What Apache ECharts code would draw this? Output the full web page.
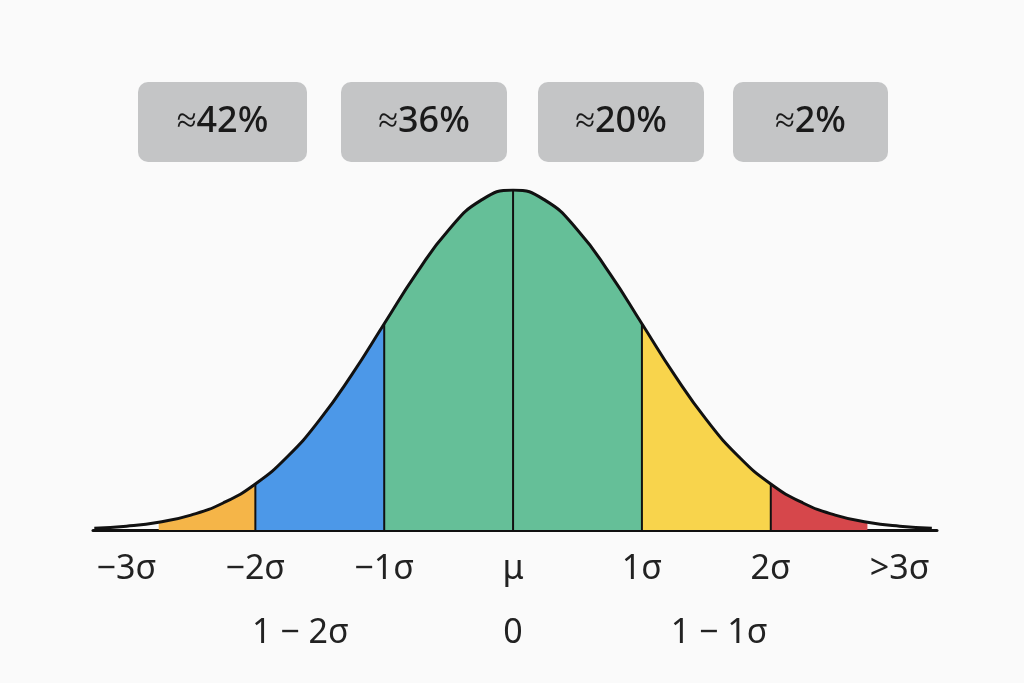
<!DOCTYPE html>
<html><head><meta charset="utf-8">
<script src="https://cdn.jsdelivr.net/npm/echarts@6/dist/echarts.min.js"></script>
<style>html,body{margin:0;background:#fafafa}#c{width:1024px;height:683px}</style>
</head><body><div id="c"></div>
<script>
const xs = [-3.25,-3,-2.75,-2.5,-2.25,-2,-1.75,-1.5,-1.25,-1,-0.75,-0.5,-0.25,0,0.25,0.5,0.75,1,1.25,1.5,1.75,2,2.25,2.5,2.75,3,3.25];
const ys = [0.0020,0.0044,0.0091,0.0175,0.0317,0.0540,0.0863,0.1295,0.1826,0.2420,0.3011,0.3521,0.3867,0.3989,0.3867,0.3521,0.3011,0.2420,0.1826,0.1295,0.0863,0.0540,0.0317,0.0175,0.0091,0.0044,0.0020];
const bands = [[-2.75,-2,'#F5B548'],[-2,-1,'#4C98E8'],[-1,1,'#65BF98'],[1,2,'#F8D44C'],[2,2.75,'#D6474B']];
const dividers = [-2,-1,0,1,2];
const tickLabels = {'-3':'−3σ','-2':'−2σ','-1':'−1σ','0':'μ','1':'1σ','2':'2σ','3':'>3σ'};
const secondRow = [[-1.65,'1 − 2σ'],[0,'0'],[1.6,'1 − 1σ']];
const boxes = ['≈42%','≈36%','≈20%','≈2%'];
const boxX = [138,341,538,733], boxW = [169,166,166,155];

const pts = xs.map((x,i)=>[x,ys[i]]);
const series = [];
bands.forEach(b=>{
  series.push({type:'line',smooth:true,symbol:'none',lineStyle:{width:0},
    areaStyle:{color:b[2],opacity:1},
    data:pts.filter(p=>p[0]>=b[0]-1e-9&&p[0]<=b[1]+1e-9)});
});
dividers.forEach(d=>{
  const i = xs.indexOf(d);
  series.push({type:'line',symbol:'none',lineStyle:{color:'#111',width:2},data:[[d,0],[d,ys[i]]]});
});
series.push({type:'line',smooth:true,symbol:'none',lineStyle:{color:'#111',width:3},data:pts,z:5});

const chart = echarts.init(document.getElementById('c'));
const graphic = [];
boxes.forEach((t,i)=>{
  graphic.push({type:'rect',shape:{x:boxX[i],y:82,width:boxW[i],height:80,r:10},style:{fill:'#c4c5c6'}});
  graphic.push({type:'text',x:boxX[i]+boxW[i]/2,y:122,style:{text:t,fill:'#1a1a1a',font:'500 36px "Noto Sans"',align:'center',verticalAlign:'middle'}});
});
chart.setOption({
  backgroundColor:'#fafafa',
  animation:false,
  grid:{left:93,right:87,top:190,bottom:153},
  xAxis:{type:'value',min:-3.26,max:3.29,splitLine:{show:false},
    axisLine:{lineStyle:{color:'#111',width:3}},axisTick:{show:false},
    axisLabel:{customValues:[-3,-2,-1,0,1,2,3],showMinLabel:true,showMaxLabel:true,margin:22,
      formatter:v=>tickLabels[String(Math.round(v))]||'',color:'#222',fontSize:34,fontFamily:'Noto Sans'}},
  yAxis:{type:'value',min:0,max:0.3989,show:false},
  series,
  graphic:graphic
});
const g2 = graphic.slice();
secondRow.forEach(s=>{
  const px = chart.convertToPixel({xAxisIndex:0},s[0]);
  g2.push({type:'text',x:px,y:633,style:{text:s[1],fill:'#222',font:'34px "Noto Sans"',align:'center',verticalAlign:'middle'}});
});
chart.setOption({graphic:g2});
</script></body></html>
